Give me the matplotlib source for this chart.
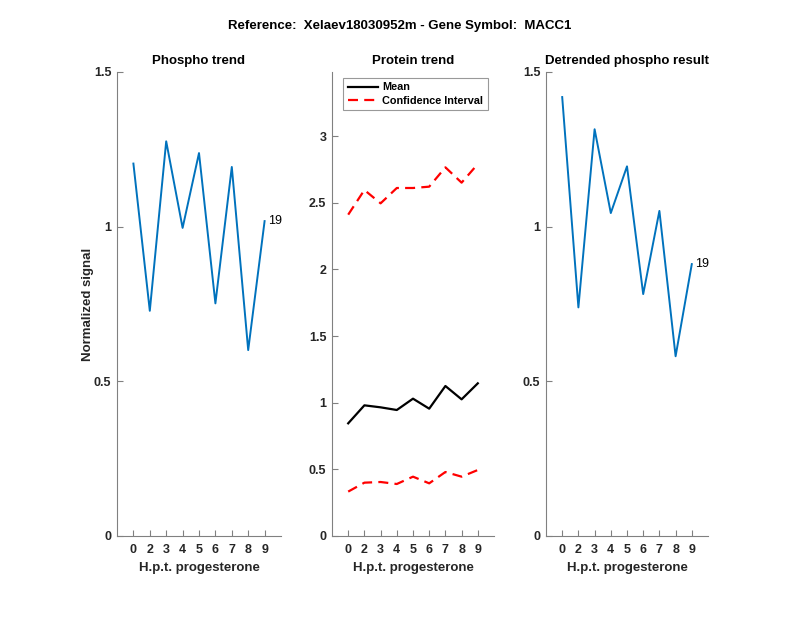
import matplotlib
matplotlib.use("Agg")
import matplotlib.pyplot as plt

plt.rcParams['font.family'] = ['Liberation Sans', 'DejaVu Sans']

tick_labels = ['0', '2', '3', '4', '5', '6', '7', '8', '9']
x_pos = [1, 2, 3, 4, 5, 6, 7, 8, 9]

phospho = [1.204, 0.728, 1.276, 0.996, 1.238, 0.752, 1.193, 0.601, 1.018]
protein_mean = [0.845, 0.98, 0.965, 0.945, 1.03, 0.955, 1.125, 1.025, 1.145]
protein_upper = [2.41, 2.595, 2.495, 2.61, 2.61, 2.62, 2.765, 2.65, 2.79]
protein_lower = [0.333, 0.40, 0.405, 0.39, 0.445, 0.395, 0.48, 0.445, 0.495]
detrended = [1.419, 0.739, 1.315, 1.044, 1.195, 0.782, 1.051, 0.581, 0.879]
point_label = '19'

suptitle = 'Reference:  Xelaev18030952m - Gene Symbol:  MACC1'
titles = ['Phospho trend', 'Protein trend', 'Detrended phospho result']
xlabel = 'H.p.t. progesterone'
ylabel = 'Normalized signal'

blue = '#0072BD'
axcol = '#262626'

fig = plt.figure(figsize=(8, 6.18), dpi=100)
bottom = 1 - 536 / 618
height = (536 - 72) / 618
pos = [(117 / 800, 164 / 800), (332 / 800, 162 / 800), (546 / 800, 162 / 800)]
axes = [fig.add_axes([l, bottom, w, height]) for l, w in pos]


def style(ax):
    ax.spines['top'].set_visible(False)
    ax.spines['right'].set_visible(False)
    for s in ('left', 'bottom'):
        ax.spines[s].set_color('#808080')
        ax.spines[s].set_linewidth(0.8)
    ax.tick_params(direction='in', length=4, width=0.8, color='#808080',
                   labelsize=9, labelcolor=axcol)
    ax.tick_params(axis='x', pad=6)
    ax.tick_params(axis='y', pad=4)
    for lab in ax.get_xticklabels() + ax.get_yticklabels():
        lab.set_fontweight('bold')
    ax.set_xlim(0, 10)
    ax.set_xticks(x_pos)
    ax.set_xticklabels(tick_labels, fontweight='bold')
    ax.set_xlabel(xlabel, fontsize=9.5, fontweight='bold', color=axcol, labelpad=4)


# Left
ax = axes[0]
ax.plot(x_pos, phospho, color=blue, lw=1.4)
ax.set_ylim(0, 1.5)
ax.set_yticks([0, 0.5, 1, 1.5])
ax.set_yticklabels(['0', '0.5', '1', '1.5'])
ax.text(x_pos[-1] + 0.2, phospho[-1], point_label, fontsize=9, va='center', ha='left')
ax.set_ylabel(ylabel, fontsize=9.5, fontweight='bold', color=axcol, labelpad=0)
ax.set_title(titles[0], fontsize=9.5, fontweight='bold', pad=6)
style(ax)

# Middle
ax = axes[1]
ax.plot(x_pos, protein_mean, color='black', lw=1.6, label='Mean')
ax.plot(x_pos, protein_upper, color='red', lw=1.6, ls=(0, (4.5, 2.8)), label='Confidence Interval')
ax.plot(x_pos, protein_lower, color='red', lw=1.6, ls=(0, (4.5, 2.8)))
ax.set_ylim(0, 3.48)
ax.set_yticks([0, 0.5, 1, 1.5, 2, 2.5, 3])
ax.set_yticklabels(['0', '0.5', '1', '1.5', '2', '2.5', '3'])
ax.set_title(titles[1], fontsize=9.5, fontweight='bold', pad=6)
leg = ax.legend(loc='upper left', bbox_to_anchor=(0.07, 0.987), fancybox=False,
                prop={'size': 7.8, 'weight': 'bold'}, handlelength=2.8,
                borderpad=0.4, labelspacing=0.3, handletextpad=0.4, borderaxespad=0.0)
leg.get_frame().set_edgecolor('#808080')
leg.get_frame().set_linewidth(0.8)
style(ax)

# Right
ax = axes[2]
ax.plot(x_pos, detrended, color=blue, lw=1.4)
ax.set_ylim(0, 1.5)
ax.set_yticks([0, 0.5, 1, 1.5])
ax.set_yticklabels(['0', '0.5', '1', '1.5'])
ax.text(x_pos[-1] + 0.2, detrended[-1], point_label, fontsize=9, va='center', ha='left')
ax.set_title(titles[2], fontsize=9.5, fontweight='bold', pad=6)
style(ax)

fig.text(0.5, 1 - 26 / 618, suptitle, ha='center', va='center', fontsize=9.5, fontweight='bold')

fig.savefig('out.png', dpi=100)
